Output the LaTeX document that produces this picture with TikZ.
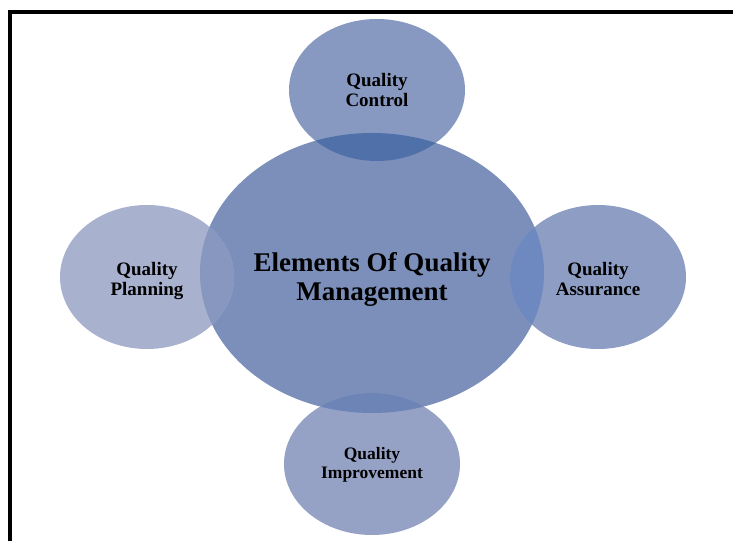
\documentclass[tikz,border=0pt]{standalone}
\usepackage{fontspec}
\setmainfont{Liberation Serif}
\usepackage{tikz}
\usetikzlibrary{shapes.geometric}

% fills of the five elements and of the lenses where they meet the centre
\definecolor{mgmtfill}{HTML}{7B8FBA}
\definecolor{ctrlfill}{HTML}{8799C1}
\definecolor{planfill}{HTML}{A8B1CD}
\definecolor{assrfill}{HTML}{8D9DC4}
\definecolor{imprfill}{HTML}{96A2C5}
\definecolor{ctrllens}{HTML}{5070AA}
\definecolor{planlens}{HTML}{8797C0}
\definecolor{assrlens}{HTML}{6E89C0}
\definecolor{imprlens}{HTML}{6C84B6}

\tikzset{
  element/.style={ellipse, inner sep=0pt,
    minimum width=176pt, minimum height=142pt},
  hub/.style={element, minimum width=344pt, minimum height=280pt},
  caption/.style={align=center, inner sep=0pt,
    font=\fontsize{19}{20.5}\selectfont\bfseries},
  bigcaption/.style={caption, font=\fontsize{27}{29}\selectfont\bfseries},
  frame/.style={line width=4pt}
}

\begin{document}
\begin{tikzpicture}[x=1pt,y=1pt]
  \useasboundingbox (0,0) rectangle (733,541);

  % frame (top and left side only)
  \draw[frame] (10,0) -- (10,529) -- (733,529);

  % centre and the four elements around it
  \node[hub, fill=mgmtfill] (mgmt) at (372,268) {};
  \node[element, fill=ctrlfill] (control) at (377,451) {};
  \node[element, fill=planfill, minimum width=174pt, minimum height=144pt] (planning) at (147,264) {};
  \node[element, fill=assrfill, minimum height=144pt] (assurance) at (598,264) {};
  \node[element, fill=imprfill] (improvement) at (372,77) {};

  % darker lenses where they overlap the centre
  \begin{scope}
    \clip (mgmt.center) ellipse [x radius=172pt, y radius=140pt];
    \fill[ctrllens] (control.center) ellipse [x radius=88pt, y radius=71pt];
    \fill[planlens] (planning.center) ellipse [x radius=87pt, y radius=72pt];
    \fill[assrlens] (assurance.center) ellipse [x radius=88pt, y radius=72pt];
    \fill[imprlens] (improvement.center) ellipse [x radius=88pt, y radius=71pt];
  \end{scope}

  % labels
  \node[bigcaption] (mgmt-text) at ([yshift=-6pt]mgmt.center) {Elements Of Quality\\Management};
  \node[caption] (control-text) at (control.center) {Quality\\Control};
  \node[caption] (planning-text) at ([yshift=-4pt]planning.center) {Quality\\Planning};
  \node[caption] (assurance-text) at ([yshift=-2pt]assurance.center) {Quality\\Assurance};
  \node[caption, font=\fontsize{17.5}{18.5}\selectfont\bfseries] (improvement-text) at ([yshift=-1pt]improvement.center) {Quality\\Improvement};
\end{tikzpicture}
\end{document}
